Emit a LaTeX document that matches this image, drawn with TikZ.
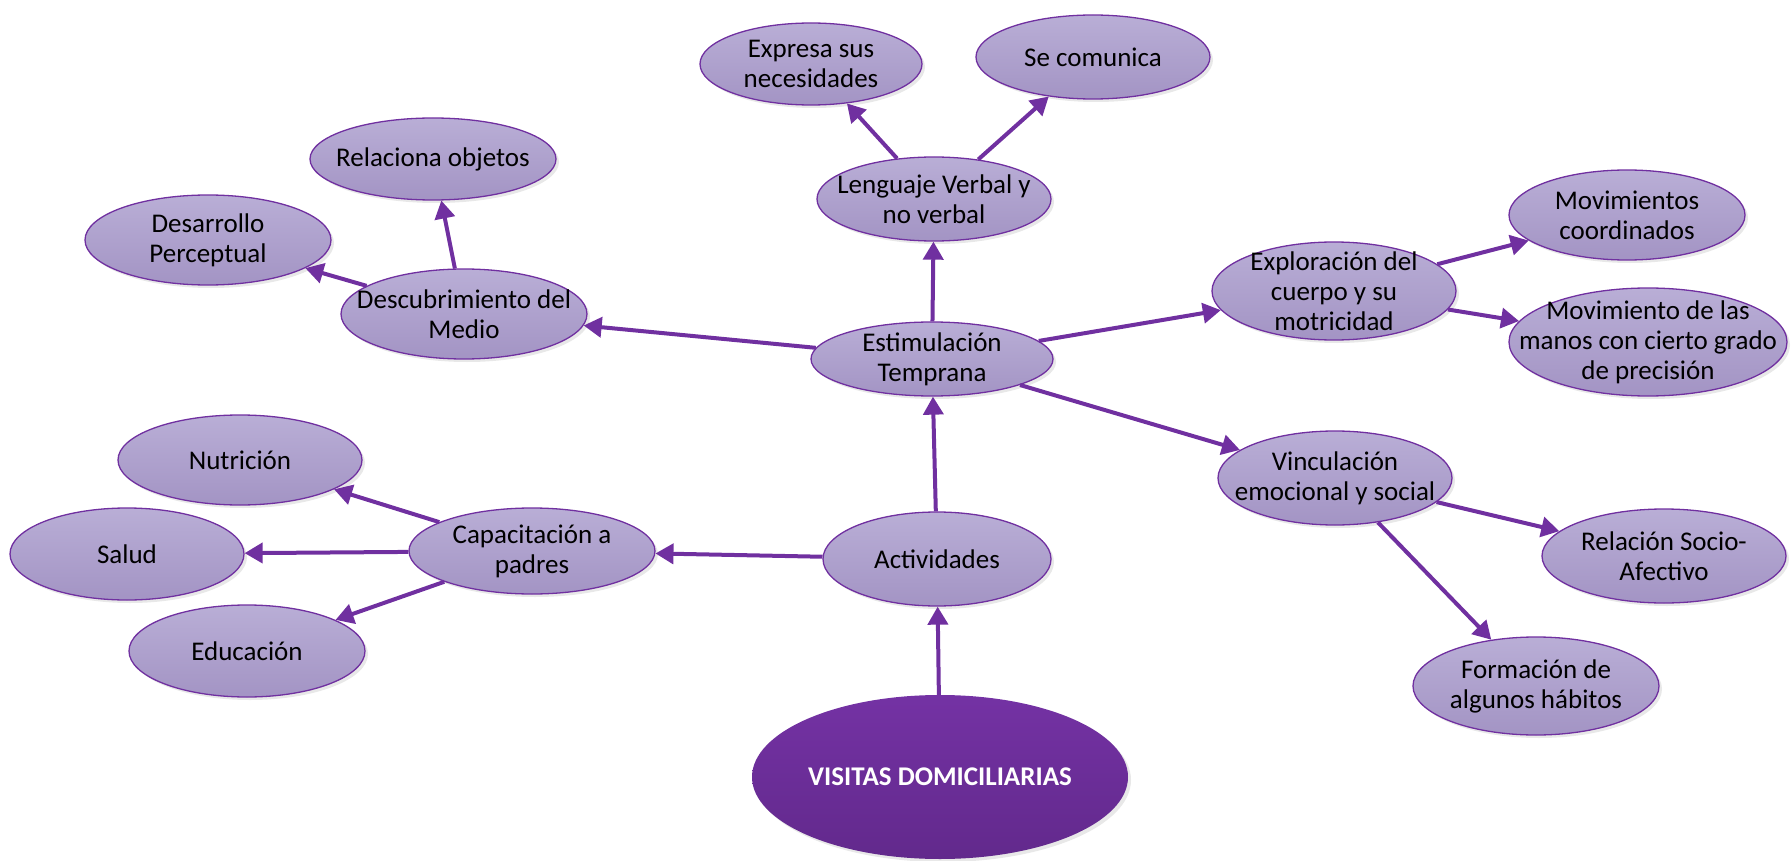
\documentclass[tikz,border=0pt]{standalone}
\usepackage{fontspec}
\setmainfont{Carlito}
\usetikzlibrary{shapes.geometric,arrows.meta,shadows}
\definecolor{purp}{HTML}{7030A0}
\definecolor{lavtop}{HTML}{B9AED6}
\definecolor{lavbot}{HTML}{A394C4}
\definecolor{deeptop}{HTML}{7432A4}
\definecolor{deepbot}{HTML}{62298C}
\tikzset{
  lbl/.style={align=center, text=black, inner sep=0pt, font=\fontsize{27}{30}\selectfont},
  bub/.style={ellipse, draw=purp, line width=1.3pt, top color=lavtop, bottom color=lavbot,
    inner sep=0pt,
    drop shadow={opacity=0.18, shadow xshift=3pt, shadow yshift=-3pt},
    label={[lbl]center:#1}},
  mainbub/.style={ellipse, draw=none, top color=deeptop, bottom color=deepbot,
    inner sep=0pt, align=center, text=white,
    font=\fontsize{27}{30}\selectfont\bfseries,
    drop shadow={opacity=0.18, shadow xshift=3pt, shadow yshift=-3pt}},
  link/.style={draw=purp, line width=4pt, -{Triangle[length=18pt,width=20pt]}}
}
\begin{document}
\begin{tikzpicture}[x=1pt,y=-1pt]
\useasboundingbox (0,0) rectangle (1791,861);
\node[mainbub, minimum width=376pt, minimum height=164pt] (vis) at (940,777) {VISITAS DOMICILIARIAS};
\node[bub={Actividades}, minimum width=228pt, minimum height=94pt] (act) at (937,559) {};
\node[bub={Estimulación\\Temprana}, minimum width=242pt, minimum height=74pt] (est) at (932,359) {};
\node[bub={Lenguaje Verbal y\\no verbal}, minimum width=234pt, minimum height=84pt] (len) at (934,199) {};
\node[bub={Expresa sus\\necesidades}, minimum width=222pt, minimum height=82pt] (exp) at (811,64) {};
\node[bub={Se comunica}, minimum width=234pt, minimum height=84pt] (com) at (1093,57) {};
\node[bub={Relaciona objetos}, minimum width=246pt, minimum height=82pt] (rel) at (433,159) {};
\node[bub={Desarrollo\\Perceptual}, minimum width=246pt, minimum height=90pt] (des) at (208,240) {};
\node[bub={Descubrimiento del\\Medio}, minimum width=246pt, minimum height=90pt] (med) at (464,314) {};
\node[bub={Exploración del\\cuerpo y su\\motricidad}, minimum width=244pt, minimum height=98pt] (explo) at (1334,291) {};
\node[bub={Movimientos\\coordinados}, minimum width=236pt, minimum height=90pt] (mov) at (1627,215) {};
\node[bub={Movimiento de las\\manos con cierto grado\\de precisión}, minimum width=278pt, minimum height=108pt] (man) at (1648,342) {};
\node[bub={Vinculación\\emocional y social}, minimum width=234pt, minimum height=94pt] (vin) at (1335,478) {};
\node[bub={Relación Socio-\\Afectivo}, minimum width=244pt, minimum height=94pt] (soc) at (1664,556) {};
\node[bub={Formación de\\algunos hábitos}, minimum width=246pt, minimum height=98pt] (form) at (1536,686) {};
\node[bub={Capacitación a\\padres}, minimum width=246pt, minimum height=86pt] (cap) at (532,551) {};
\node[bub={Nutrición}, minimum width=244pt, minimum height=90pt] (nut) at (240,460) {};
\node[bub={Salud}, minimum width=234pt, minimum height=92pt] (sal) at (127,554) {};
\node[bub={Educación}, minimum width=236pt, minimum height=92pt] (edu) at (247,651) {};

\draw[link] (vis) -- (act);
\draw[link] (act) -- (est);
\draw[link] (act) -- (cap);
\draw[link] (cap) -- (nut);
\draw[link] (cap) -- (sal);
\draw[link] (cap) -- (edu);
\draw[link] (est) -- (len);
\draw[link] (len) -- (exp);
\draw[link] (len) -- (com);
\draw[link] (est) -- (med);
\draw[link] (med) -- (rel);
\draw[link] (med) -- (des);
\draw[link] (est) -- (explo);
\draw[link] (explo) -- (mov);
\draw[link] (explo) -- (man);
\draw[link] (est) -- (vin);
\draw[link] (vin) -- (soc);
\draw[link] (vin) -- (form);
\end{tikzpicture}
\end{document}
